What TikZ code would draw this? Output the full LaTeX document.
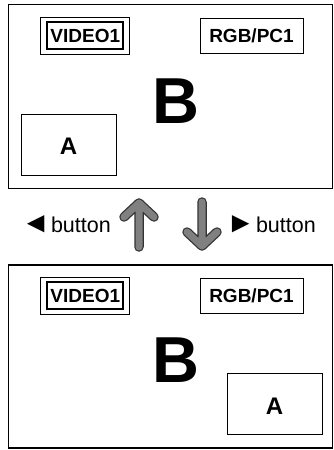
\documentclass[tikz,border=0pt]{standalone}
\usepackage{fontspec}
\setmainfont{Liberation Sans}
\begin{document}
\begin{tikzpicture}[x=1pt,y=-1pt,
  frame/.style={draw, line width=1.6pt, inner sep=0pt},
  tag/.style={draw, line width=0.9pt, inner sep=0pt, minimum width=103pt, minimum height=35pt,
    font=\fontsize{19}{20}\selectfont\bfseries},
  tagouter/.style={draw, line width=0.9pt, inner sep=0pt, minimum width=88.5pt, minimum height=37pt},
  taginner/.style={draw, line width=2.2pt, inner sep=0pt, minimum width=76pt, minimum height=27pt,
    font=\fontsize{19}{20}\selectfont\bfseries},
  subwin/.style={draw, line width=1pt, inner sep=0pt, minimum width=95pt, minimum height=61pt},
  bigB/.style={inner sep=0pt, font=\fontsize{65}{70}\selectfont\bfseries},
  smallA/.style={inner sep=0pt, font=\fontsize{24}{26}\selectfont\bfseries},
  btn/.style={inner sep=0pt, font=\fontsize{21.5}{24}\selectfont},
  arrowedge/.style={draw=black!80, line width=9.5pt, line cap=round, line join=round},
  arrowbody/.style={draw=black!50, line width=7pt, line cap=round, line join=round}]
\useasboundingbox (0,0) rectangle (334,450);
% top screen
\node[frame, minimum width=324pt, minimum height=184pt] (top) at (170.5,96.5) {};
\node[tagouter] (tv1o) at (84.75,35.5) {};
\node[taginner] (tv1) at (85.25,35.5) {VIDEO1};
\node[tag] (trgb) at (251.5,35.5) {RGB/PC1};
\node[bigB] (tB) at (176,101) {B};
\node[subwin] (tAw) at (68.5,144.5) {};
\node[smallA] (tA) at (68.5,146.5) {A};
% bottom screen
\node[frame, minimum width=324pt, minimum height=183pt] (bot) at (170.5,356.5) {};
\node[tagouter] (bv1o) at (84.75,295.5) {};
\node[taginner] (bv1) at (85.25,295.5) {VIDEO1};
\node[tag] (brgb) at (251.5,295.5) {RGB/PC1};
\node[bigB] (bB) at (176,360) {B};
\node[subwin] (bAw) at (274.5,403.5) {};
\node[smallA] (bA) at (274.5,406) {A};
% buttons
\node[btn, anchor=base east] (lbtn) at (111,232) {{\fontsize{29}{30}\selectfont ◄}\hspace{-5pt} button};
\node[btn, anchor=base east] (rbtn) at (316,232) {{\fontsize{29}{30}\selectfont ►}\hspace{-5pt} button};
% arrows
\coordinate (upTip) at (139,203);
\coordinate (upEnd) at (139,247);
\coordinate (upL) at (124,217);
\coordinate (upR) at (154,217);
\coordinate (dnTop) at (202,202);
\coordinate (dnTip) at (202,246);
\coordinate (dnL) at (187,232);
\coordinate (dnR) at (217,232);
\foreach \s in {arrowedge,arrowbody}{
  \path[\s] (upEnd) -- (upTip) (upL) -- (upTip) -- (upR);
  \path[\s] (dnTop) -- (dnTip) (dnL) -- (dnTip) -- (dnR);
}
\end{tikzpicture}
\end{document}
